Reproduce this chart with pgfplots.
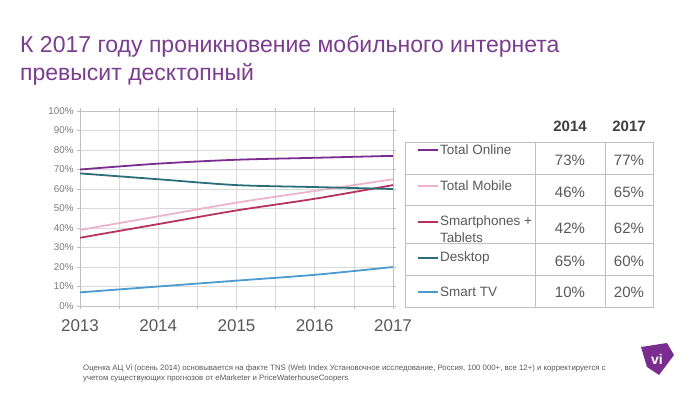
\documentclass[border=0pt]{standalone}
\usepackage{pgfplots}
\pgfplotsset{compat=1.18}
\usepackage{fontspec}
\setmainfont{Liberation Sans}
\definecolor{cOnline}{HTML}{7B2C8F}
\definecolor{cMobile}{HTML}{EDB3CB}
\definecolor{cSmart}{HTML}{B7325E}
\definecolor{cDesk}{HTML}{2B6E79}
\definecolor{cTV}{HTML}{4B9BD0}
\definecolor{cTitle}{HTML}{7A3D8F}
\definecolor{cGrid}{HTML}{D9D9D9}
\definecolor{cTxt}{HTML}{595959}
\definecolor{cTab}{HTML}{BFBFBF}
\begin{document}
\begin{tikzpicture}[x=1bp,y=1bp]
\path[use as bounding box, fill=white] (0,0) rectangle (700,393);
% title
\node[anchor=base west, inner sep=0, text=cTitle, font=\fontsize{23bp}{27bp}\selectfont] at (20,341) {К 2017 году проникновение мобильного интернета};
\node[anchor=base west, inner sep=0, text=cTitle, font=\fontsize{23bp}{27bp}\selectfont] at (20,313) {превысит десктопный};
\begin{axis}[
  at={(80bp,87bp)}, anchor=south west,
  scale only axis, width=313bp, height=195bp,
  xmin=2013, xmax=2017, ymin=0, ymax=100,
  xtick={2013,2014,2015,2016,2017},
  minor xtick={2013.5,2014.5,2015.5,2016.5},
  ytick={0,10,...,100},
  grid=both,
  major grid style={cGrid, line width=0.6bp},
  minor grid style={cGrid, line width=0.6bp},
  axis line style={draw=cTab, line width=0.8bp},
  tick style={draw=cTab, line width=0.6bp},
  tick align=outside, major tick length=3bp, minor tick length=3bp,
  /pgf/number format/assume math mode=true,
  /pgf/number format/1000 sep={},
  xticklabel style={font=\fontsize{17bp}{20bp}\selectfont, text=cTxt, yshift=-7bp},
  yticklabel={\pgfmathprintnumber{\tick}\%},
  yticklabel style={font=\fontsize{9.8bp}{11bp}\selectfont, text=cTxt!80},
  every axis plot/.append style={line width=1.8bp, smooth, tension=0.5, no marks},
]
\addplot[cOnline] coordinates {(2013,70) (2014,73) (2015,75) (2016,76) (2017,77)};
\addplot[cMobile] coordinates {(2013,39) (2014,46) (2015,53) (2016,59) (2017,65)};
\addplot[cSmart] coordinates {(2013,35) (2014,42) (2015,49) (2016,55) (2017,62)};
\addplot[cDesk] coordinates {(2013,68) (2014,65) (2015,62) (2016,61) (2017,60)};
\addplot[cTV] coordinates {(2013,7) (2014,10) (2015,13) (2016,16) (2017,20)};
\end{axis}
% table
\draw[cTab, line width=0.9bp] (405,251) rectangle (653,86);
\draw[cTab, line width=0.9bp] (535,251) -- (535,86);
\draw[cTab, line width=0.9bp] (605,251) -- (605,86);
\foreach \yy in {219,188,150,118} \draw[cTab, line width=0.9bp] (405,\yy) -- (653,\yy);
\node[font=\fontsize{15bp}{18bp}\selectfont\bfseries, text=black!75] at (570,267) {2014};
\node[font=\fontsize{15bp}{18bp}\selectfont\bfseries, text=black!75] at (629,267) {2017};
% legend column
\begin{scope}[every node/.style={anchor=west, inner sep=0, text=cTxt, font=\fontsize{13.5bp}{16bp}\selectfont}]
\draw[cOnline, line width=1.5bp] (418,243) -- (438,243); \node at (440,243) {Total Online};
\draw[cMobile, line width=1.5bp] (418,207) -- (438,207); \node at (440,207) {Total Mobile};
\draw[cSmart, line width=1.5bp] (418,171) -- (438,171); \node at (440,171) {Smartphones +};
\node at (440,155) {Tablets};
\draw[cDesk, line width=1.5bp] (418,135) -- (438,135); \node at (440,135) {Desktop};
\draw[cTV, line width=1.5bp] (418,101) -- (438,101); \node at (440,101) {Smart TV};
\end{scope}
\begin{scope}[every node/.style={inner sep=0, text=cTxt, font=\fontsize{15bp}{18bp}\selectfont}]
\node at (570,233) {73\%}; \node at (629,233) {77\%};
\node at (570,201) {46\%}; \node at (629,201) {65\%};
\node at (570,165) {42\%}; \node at (629,165) {62\%};
\node at (570,132) {65\%}; \node at (629,132) {60\%};
\node at (570,101) {10\%}; \node at (629,101) {20\%};
\end{scope}
% footnote
\node[anchor=base west, inner sep=0, text=cTxt, font=\fontsize{7.8bp}{9bp}\selectfont] at (83,23) {Оценка АЦ Vi (осень 2014) основывается на факте TNS (Web Index Установочное исследование, Россия, 100 000+, все 12+) и корректируется с};
\node[anchor=base west, inner sep=0, text=cTxt, font=\fontsize{7.8bp}{9bp}\selectfont] at (83,13) {учетом существующих прогнозов от eMarketer и PriceWaterhouseCoopers};
% logo
\fill[cOnline] (641,46) -- (667,50) -- (674,38) -- (659,18) -- (647,26) -- cycle;
\node[text=white, font=\fontsize{14bp}{16bp}\selectfont\bfseries] at (657,34) {vi};
\end{tikzpicture}
\end{document}
